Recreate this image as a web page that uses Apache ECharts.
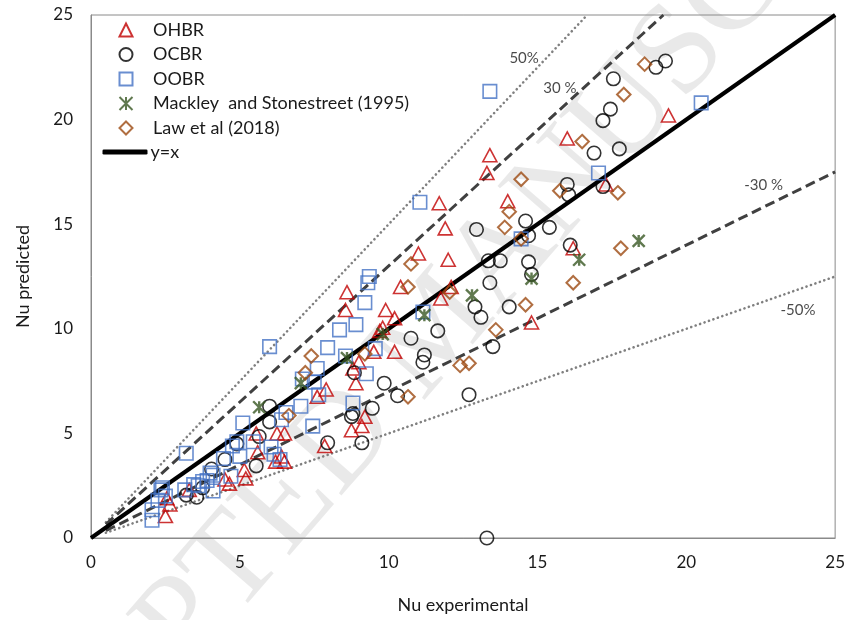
<!DOCTYPE html>
<html>
<head>
<meta charset="utf-8">
<script src="https://cdn.jsdelivr.net/npm/echarts@6/dist/echarts.min.js"></script>
<style>html,body{margin:0;padding:0;background:#fff;}#chart{width:848px;height:620px;}</style>
</head>
<body>
<div id="chart"></div>
<script>
// ---- data (Nu experimental, Nu predicted) ----
const ohbr = [
  [19.4,20.2],[16.0,19.1],[17.3,16.9],[16.2,13.85],[13.4,18.3],[13.3,17.45],[11.7,16.0],[14.0,16.1],
  [11.9,14.8],[11.0,13.6],[12.0,13.3],[10.4,12.0],[8.6,11.75],[12.1,12.0],[11.75,11.45],[14.8,10.3],
  [8.55,10.9],[9.9,10.9],[10.2,10.5],[9.7,9.9],[9.8,10.05],[10.2,8.9],[9.5,8.9],[9.0,8.4],[8.8,8.1],
  [8.9,7.4],[7.9,7.1],[7.6,6.75],[9.2,5.8],[9.1,5.35],[6.25,5.0],[6.5,5.0],[5.55,5.0],[7.85,4.4],
  [5.6,4.1],[6.4,3.9],[8.75,5.15],[6.2,3.65],[6.5,3.65],[5.15,3.25],[5.2,2.85],[4.65,2.6],[4.5,2.8],
  [3.3,2.3],[2.55,1.9],[2.65,1.6],[2.5,1.05]
];
const ocbr = [
  [18.98,22.5],[19.3,22.8],[17.55,21.95],[17.45,20.5],[17.2,19.95],[16.9,18.4],[17.75,18.6],[17.2,16.8],
  [16.0,16.9],[16.05,16.4],[15.4,14.85],[16.1,14.0],[12.95,14.75],[14.6,15.15],[14.7,14.45],[13.35,13.25],
  [13.75,13.25],[14.7,13.2],[14.8,12.6],[13.4,12.2],[12.9,11.05],[13.1,10.55],[14.05,11.05],[11.65,9.9],
  [10.75,9.55],[13.5,9.15],[11.2,8.75],[11.15,8.4],[8.85,7.9],[9.85,7.4],[10.3,6.8],[12.7,6.85],
  [8.8,5.95],[9.45,6.2],[8.75,5.8],[7.95,4.55],[9.1,4.55],[6.0,6.3],[6.0,5.55],[5.65,4.85],[4.9,4.5],
  [4.5,3.75],[5.55,3.45],[4.05,3.3],[3.75,2.4],[3.2,2.05],[3.55,1.95],[13.3,0]
];
const oobr = [
  [20.5,20.8],[17.05,17.45],[13.4,21.35],[11.05,16.05],[14.45,14.3],[9.35,12.5],[9.3,12.2],[9.2,11.25],
  [11.15,10.8],[8.35,9.95],[8.9,10.2],[7.95,9.1],[9.55,9.05],[8.55,8.7],[7.6,8.1],[7.1,7.6],[9.25,7.85],
  [7.5,7.45],[7.05,6.3],[8.8,6.45],[7.45,5.35],[6.0,9.15],[7.65,6.85],[6.55,6.0],[6.4,5.65],[5.1,5.5],
  [4.9,4.6],[5.45,4.6],[6.05,4.35],[6.15,4.0],[4.75,4.4],[6.35,3.75],[5.0,3.9],[4.7,2.95],[4.0,3.1],
  [4.1,2.25],[3.9,2.75],[3.2,4.05],[4.45,3.8],[4.1,3.0],[3.75,2.7],[3.6,2.5],[3.45,2.55],[3.15,2.3],
  [2.35,2.3],[2.5,2.0],[2.25,1.8],[2.05,1.35],[2.05,0.85],[2.4,2.4]
];
const mackley = [
  [18.4,14.2],[16.4,13.3],[14.8,12.4],[12.8,11.6],[11.2,10.65],[9.8,9.75],[8.6,8.6],[7.05,7.4],[5.65,6.25]
];
const law = [
  [18.6,22.65],[17.9,21.2],[16.5,18.95],[15.75,16.6],[17.7,16.5],[17.8,13.85],[16.2,12.2],[14.45,17.15],
  [14.05,15.6],[13.9,14.85],[14.45,14.3],[10.75,13.1],[10.65,12.0],[12.05,11.75],[14.6,11.15],[13.6,9.95],
  [9.2,8.8],[12.4,8.25],[12.7,8.35],[7.4,8.7],[7.2,7.9],[10.65,6.75],[6.65,5.85]
];
// reference lines (end points)
const lineYX = [[0,0],[25,25]];
const linePlus50 = [[0.5,0.75],[16.67,25]];
const linePlus30 = [[0.5,0.65],[19.23,25]];
const lineMinus30 = [[0.5,0.35],[25,17.5]];
const lineMinus50 = [[0.5,0.25],[25,12.5]];
// annotation labels
const annoText = ['50%','30 %','-30 %','-50%'];
const annoPos = [[14.55,22.95],[15.75,21.5],[22.6,16.85],[23.75,10.9]];
const markerNames = ['OHBR','OCBR','OOBR','Mackley  and Stonestreet (1995)','Law et al (2018)'];
const lineName = 'y=x';
const xTicks = [0,5,10,15,20,25];

const FONT = 'Lato, "Open Sans", sans-serif';
const chart = echarts.init(document.getElementById('chart'), null, {renderer:'canvas'});
const hollow = (c, w) => ({color:'rgba(0,0,0,0)', borderColor:c, borderWidth:w||1.6});

const option = {
  animation:false,
  backgroundColor:'#fff',
  graphic:[{
    type:'text', x:440, y:330, rotation:49*Math.PI/180, z:-10, silent:true,
    style:{text:'ACCEPTED MANUSCRIPT', fill:'rgba(0,0,0,0.085)', font:'130px "Liberation Serif", serif',
      textAlign:'center', textVerticalAlign:'middle'}
  }],
  grid:{left:91, right:11, top:15, bottom:82, show:true, borderColor:'#8a8a8a', borderWidth:1},
  legend:[{
    data:markerNames, orient:'vertical', left:118.5, top:21, padding:0, itemWidth:13, itemHeight:13, itemGap:6.5,
    textStyle:{fontFamily:FONT, fontSize:18, lineHeight:18, color:'#1a1a1a', padding:[0,0,0,15.5]}
  },{
    data:[{name:lineName, icon:'roundRect'}], orient:'vertical', left:102.5, top:143, padding:0, itemWidth:45, itemHeight:5,
    textStyle:{fontFamily:FONT, fontSize:18, lineHeight:18, color:'#1a1a1a', padding:[0,0,0,-2]}
  }],
  xAxis:{
    type:'value', min:0, max:25, interval:5, name:'Nu experimental', nameLocation:'middle', nameGap:58,
    nameTextStyle:{fontFamily:FONT, fontSize:18, color:'#1a1a1a'},
    axisLine:{show:true, lineStyle:{color:'#8a8a8a', width:1}}, axisTick:{show:false},
    splitLine:{show:false},
    axisLabel:{fontFamily:FONT, fontSize:17, color:'#1a1a1a', margin:16,
      formatter:v => xTicks.includes(v) ? String(v) : ''}
  },
  yAxis:{
    type:'value', min:0, max:25, interval:5, name:'Nu predicted', nameLocation:'middle', nameGap:59,
    nameTextStyle:{fontFamily:FONT, fontSize:18, color:'#1a1a1a'},
    axisLine:{show:true, lineStyle:{color:'#8a8a8a', width:1}}, axisTick:{show:false},
    splitLine:{show:false},
    axisLabel:{fontFamily:FONT, fontSize:17, color:'#1a1a1a', margin:18}
  },
  series:[
    {name:'+50', type:'line', data:linePlus50, symbol:'none', z:1, silent:true,
      lineStyle:{color:'#808080', width:2.6, type:[0.1,4.6], cap:'round'}},
    {name:'+30', type:'line', data:linePlus30, symbol:'none', z:1, silent:true,
      lineStyle:{color:'#404040', width:3, type:[10,5]}},
    {name:'-30', type:'line', data:lineMinus30, symbol:'none', z:1, silent:true,
      lineStyle:{color:'#404040', width:3, type:[10,5]}},
    {name:'-50', type:'line', data:lineMinus50, symbol:'none', z:1, silent:true,
      lineStyle:{color:'#808080', width:2.6, type:[0.1,4.6], cap:'round'}},
    {name:lineName, type:'line', data:lineYX, symbol:'none', z:2,
      lineStyle:{color:'#000', width:4}, itemStyle:{color:'#000'}},
    {name:'OHBR', type:'scatter', data:ohbr, symbol:'triangle', symbolSize:[14,13], z:3, itemStyle:hollow('#C00000')},
    {name:'OCBR', type:'scatter', data:ocbr, symbol:'circle', symbolSize:13.5, z:3, itemStyle:hollow('#000000')},
    {name:'OOBR', type:'scatter', data:oobr, symbol:'rect', symbolSize:13.5, z:3, itemStyle:hollow('#4472C4')},
    {name:'Mackley  and Stonestreet (1995)', type:'scatter', data:mackley,
      symbol:'path://M0,0L10,10M10,0L0,10M5,0L5,10', symbolSize:12, z:3, itemStyle:hollow('#385723', 2.4)},
    {name:'Law et al (2018)', type:'scatter', data:law, symbol:'diamond', symbolSize:13.5, z:3, itemStyle:hollow('#9C4A12', 2)},
    {name:'anno', type:'scatter', data:annoPos.map((p,i)=>({value:p, name:annoText[i]})), symbolSize:0, z:4, silent:true,
      label:{show:true, position:'inside', formatter:p=>p.name, fontFamily:FONT, fontSize:15, color:'#1a1a1a'}}
  ]
};
chart.setOption(option);
</script>
</body>
</html>
